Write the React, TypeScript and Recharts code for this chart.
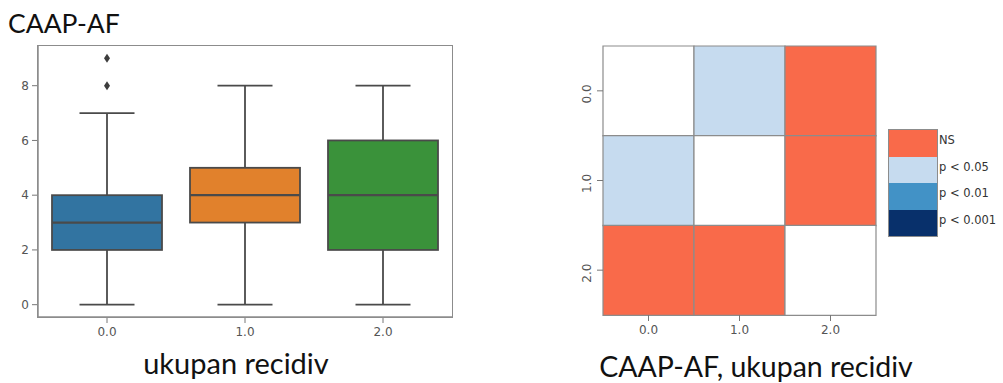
import React from "react";
import { ComposedChart, BarChart, Bar, XAxis, YAxis, Cell } from "recharts";

// box plot: CAAP-AF score per recurrence group
const groups = ["0.0", "1.0", "2.0"];
const whiskerLow = [0, 0, 0];
const q1 = [2, 3, 2];
const median = [3, 4, 4];
const q3 = [4, 5, 6];
const whiskerHigh = [7, 8, 8];
const outliers = [[8, 9], [], []];
const boxColors = ["#3274a1", "#e1812c", "#3a923a"];
const yTicks = [0, 2, 4, 6, 8];

// pairwise significance matrix (rows/cols follow groups)
const pairLevels = [
  ["", "p < 0.05", "NS"],
  ["p < 0.05", "", "NS"],
  ["NS", "NS", ""],
];
const legendLevels = ["NS", "p < 0.05", "p < 0.01", "p < 0.001"];
const levelColors: Record<string, string> = {
  "": "#ffffff",
  NS: "#f96a4a",
  "p < 0.05": "#c6dbef",
  "p < 0.01": "#4292c6",
  "p < 0.001": "#08306b",
};

const boxData = groups.map((g, i) => ({
  name: g,
  range: [whiskerLow[i], whiskerHigh[i]],
  low: whiskerLow[i],
  high: whiskerHigh[i],
  q1: q1[i],
  median: median[i],
  q3: q3[i],
  outliers: outliers[i],
  color: boxColors[i],
}));

const heatData = groups.map((g) => ({ row: g, c0: 1, c1: 1, c2: 1 }));

const LINE = "#4a4a4a";
const FRAME = "#8c8c8c";
const tickFont = { fill: "#555", fontSize: 12, fontFamily: "DejaVu Sans" };

const BoxShape = (props: any) => {
  const { x, y, width, height, payload } = props;
  const top = Math.min(y, y + height);
  const bottom = Math.max(y, y + height);
  const toY = (v: number) =>
    top + ((payload.high - v) / (payload.high - payload.low)) * (bottom - top);
  const cx = x + width / 2;
  const capHalf = width / 4;
  return (
    <g>
      <line x1={cx} x2={cx} y1={toY(payload.high)} y2={toY(payload.q3)} stroke={LINE} strokeWidth={1.8} />
      <line x1={cx} x2={cx} y1={toY(payload.q1)} y2={toY(payload.low)} stroke={LINE} strokeWidth={1.8} />
      <line x1={cx - capHalf} x2={cx + capHalf} y1={toY(payload.high)} y2={toY(payload.high)} stroke={LINE} strokeWidth={1.8} />
      <line x1={cx - capHalf} x2={cx + capHalf} y1={toY(payload.low)} y2={toY(payload.low)} stroke={LINE} strokeWidth={1.8} />
      <rect
        x={x}
        y={toY(payload.q3)}
        width={width}
        height={toY(payload.q1) - toY(payload.q3)}
        fill={payload.color}
        stroke={LINE}
        strokeWidth={1.8}
      />
      <line x1={x} x2={x + width} y1={toY(payload.median)} y2={toY(payload.median)} stroke={LINE} strokeWidth={2.2} />
      {payload.outliers.map((v: number, k: number) => {
        const oy = toY(v);
        return (
          <path
            key={k}
            d={`M${cx},${oy - 4.5} L${cx + 3},${oy} L${cx},${oy + 4.5} L${cx - 3},${oy} Z`}
            fill="#3d3d3d"
          />
        );
      })}
    </g>
  );
};

const RotatedTick = (props: any) => {
  const { x, y, payload } = props;
  return (
    <text
      x={x - 4}
      y={y + 3}
      transform={`rotate(-90, ${x - 4}, ${y + 3})`}
      textAnchor="middle"
      fill="#555"
      fontSize={12}
      fontFamily="DejaVu Sans"
    >
      {payload.value}
    </text>
  );
};

const App = () => {
  return (
    <div style={{ position: "absolute", left: 0, top: 0, width: 1003, height: 383, background: "#fff" }}>
      <div style={{ position: "absolute", left: 0, top: 0 }}>
        <ComposedChart
          width={470}
          height={383}
          data={boxData}
          margin={{ top: 46, right: 18, bottom: 36, left: 8 }}
        >
          <XAxis
            dataKey="name"
            tick={tickFont}
            tickSize={6}
            tickMargin={4}
            height={30}
            axisLine={{ stroke: FRAME, strokeWidth: 1.5 }}
            tickLine={{ stroke: "#777" }}
          />
          <YAxis
            type="number"
            domain={[-0.45, 9.45]}
            ticks={yTicks}
            allowDataOverflow
            width={30}
            tick={tickFont}
            tickSize={6}
            tickMargin={3}
            axisLine={{ stroke: FRAME, strokeWidth: 1.5 }}
            tickLine={{ stroke: "#777" }}
          />
          <Bar dataKey="range" barSize={110} shape={<BoxShape />} isAnimationActive={false} />
        </ComposedChart>
        {/* plot frame */}
        <div
          style={{
            position: "absolute",
            left: 37.25,
            top: 45.25,
            width: 414,
            height: 271,
            border: `1.5px solid ${FRAME}`,
            pointerEvents: "none",
          }}
        />
      </div>

      <div style={{ position: "absolute", left: 520, top: 0 }}>
        <BarChart
          width={483}
          height={383}
          data={heatData}
          layout="vertical"
          margin={{ top: 46, right: 127, bottom: 38, left: 63 }}
          barCategoryGap={0}
          barGap={0}
        >
          <XAxis
            type="number"
            domain={[0, 3]}
            ticks={[0.5, 1.5, 2.5]}
            tickFormatter={(v: number) => groups[Math.floor(v)]}
            tick={tickFont}
            tickSize={6}
            tickMargin={4}
            height={30}
            axisLine={false}
            tickLine={{ stroke: "#777" }}
          />
          <YAxis
            type="category"
            dataKey="row"
            width={20}
            tick={<RotatedTick />}
            tickSize={6}
            axisLine={false}
            tickLine={{ stroke: "#777" }}
          />
          {[0, 1, 2].map((c) => (
            <Bar key={c} dataKey={`c${c}`} stackId="cells" stroke={FRAME} strokeWidth={1.2} isAnimationActive={false}>
              {heatData.map((_, r) => (
                <Cell key={r} fill={levelColors[pairLevels[r][c]]} />
              ))}
            </Bar>
          ))}
        </BarChart>
      </div>

      {/* colorbar legend */}
      <div style={{ position: "absolute", left: 888, top: 129, width: 48, border: `1px solid ${FRAME}` }}>
        {legendLevels.map((lv) => (
          <div key={lv} style={{ height: 26.5, background: levelColors[lv] }} />
        ))}
      </div>
      {legendLevels.map((lv, i) => (
        <div
          key={lv}
          style={{
            position: "absolute",
            left: 939,
            top: 133 + i * 26.5,
            fontFamily: "DejaVu Sans",
            fontSize: 11.5,
            color: "#333",
            lineHeight: "14px",
            whiteSpace: "nowrap",
          }}
        >
          {lv}
        </div>
      ))}

      <svg width={1003} height={383} style={{ position: "absolute", left: 0, top: 0, pointerEvents: "none" }}>
        <text x={8} y={33} fontFamily="Lato" fontSize={26.5} fill="#111">CAAP-AF</text>
        <text x={236} y={374} textAnchor="middle" fontFamily="Lato" fontSize={29} fill="#111">ukupan recidiv</text>
        <text x={756} y={377} textAnchor="middle" fontFamily="Lato" fontSize={28.5} fill="#111">CAAP-AF, ukupan recidiv</text>
      </svg>
    </div>
  );
};

export default App;
